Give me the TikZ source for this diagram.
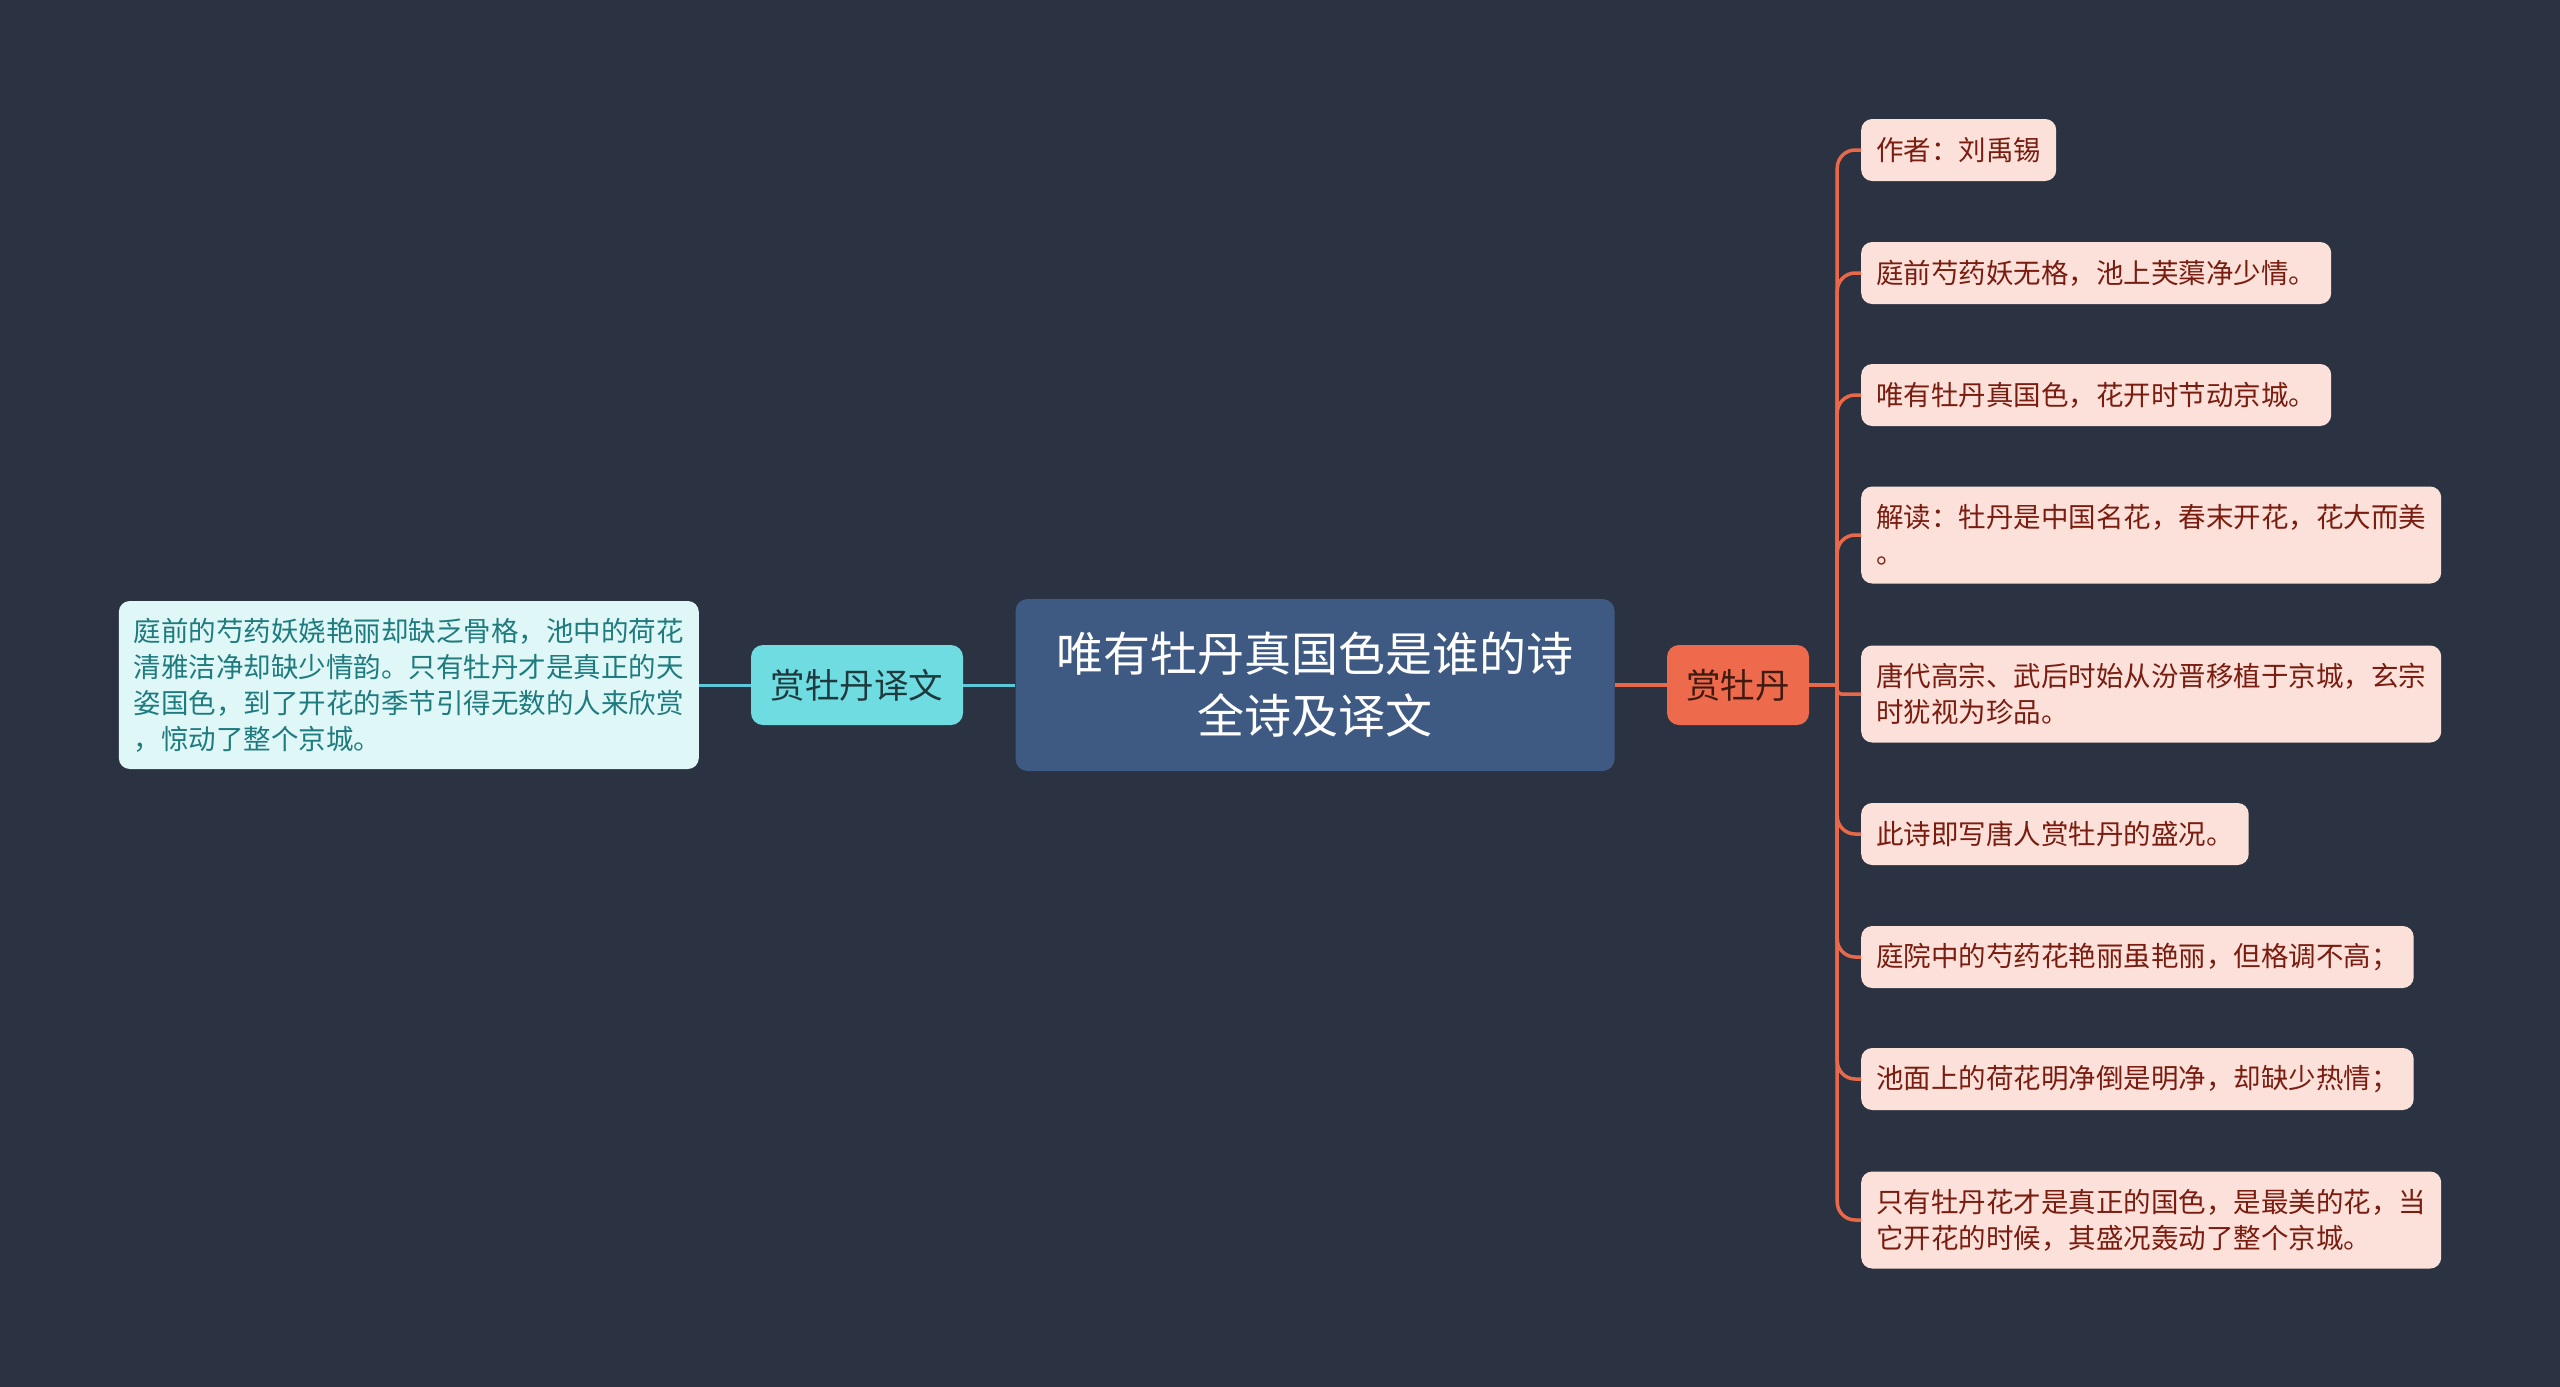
\documentclass[tikz,border=0pt]{standalone}
\usepackage{fontspec}
\newfontfamily\cjk{Noto Sans CJK SC}
\definecolor{bg}{HTML}{2B3342}
\definecolor{rootfill}{HTML}{3E5A82}
\definecolor{redfill}{HTML}{EE6A4C}
\definecolor{redtext}{HTML}{3E1A10}
\definecolor{cyanfill}{HTML}{6EDCE0}
\definecolor{cyantext}{HTML}{1F3A3E}
\definecolor{leaffill}{HTML}{FCE1DA}
\definecolor{leaftext}{HTML}{7A1D10}
\definecolor{lleaffill}{HTML}{E0F7F8}
\definecolor{lleaftext}{HTML}{1E7B7E}
\definecolor{redline}{HTML}{E8684A}
\definecolor{cyanline}{HTML}{5CC9DA}
\tikzset{
  rootbox/.style={rectangle, rounded corners=12pt, fill=rootfill, text=white,
    font=\cjk\fontsize{47}{62}\selectfont, align=center,
    minimum width=599pt, minimum height=172pt, inner sep=0pt},
  subbox/.style={rectangle, rounded corners=12pt, font=\cjk\fontsize{34.5}{42}\selectfont,
    minimum height=80pt, inner sep=0pt},
  leafbox/.style={rectangle, rounded corners=11pt, fill=leaffill, text=leaftext,
    font=\cjk\fontsize{27.5}{36}\selectfont, inner xsep=15pt, inner ysep=0pt,
    minimum height=62pt, anchor=west, align=left},
  lleafbox/.style={rectangle, rounded corners=11pt, fill=lleaffill, text=lleaftext,
    font=\cjk\fontsize{27.5}{36}\selectfont, inner xsep=15pt, inner ysep=0pt,
    minimum height=168pt, anchor=east, align=left},
  redlink/.style={draw=redline, line width=3.5pt},
  cyanlink/.style={draw=cyanline, line width=3pt},
}
\begin{document}
\begin{tikzpicture}[x=1pt,y=-1pt]
\fill[bg] (0,0) rectangle (2560,1387);
\useasboundingbox (0,0) rectangle (2560,1387);

\node[rootbox] (root) at (1315,685) {唯有牡丹真国色是谁的诗\\全诗及译文};
\node[subbox, fill=redfill, text=redtext, minimum width=142pt] (sm) at (1738,685) {赏牡丹};
\node[subbox, fill=cyanfill, text=cyantext, minimum width=212pt] (yw) at (857,685) {赏牡丹译文};

\node[lleafbox] (lt) at (699,685) {庭前的芍药妖娆艳丽却缺乏骨格，池中的荷花\\清雅洁净却缺少情韵。只有牡丹才是真正的天\\姿国色，到了开花的季节引得无数的人来欣赏\\，惊动了整个京城。};

\node[leafbox] (a1) at (1861,150) {作者：刘禹锡};
\node[leafbox] (a2) at (1861,273) {庭前芍药妖无格，池上芙蕖净少情。};
\node[leafbox] (a3) at (1861,395) {唯有牡丹真国色，花开时节动京城。};
\node[leafbox, minimum height=97pt] (a4) at (1861,535) {解读：牡丹是中国名花，春末开花，花大而美\\。};
\node[leafbox, minimum height=97pt] (a5) at (1861,694) {唐代高宗、武后时始从汾晋移植于京城，玄宗\\时犹视为珍品。};
\node[leafbox] (a6) at (1861,834) {此诗即写唐人赏牡丹的盛况。};
\node[leafbox] (a7) at (1861,957) {庭院中的芍药花艳丽虽艳丽，但格调不高；};
\node[leafbox] (a8) at (1861,1079) {池面上的荷花明净倒是明净，却缺少热情；};
\node[leafbox, minimum height=97pt] (a9) at (1861,1220) {只有牡丹花才是真正的国色，是最美的花，当\\它开花的时候，其盛况轰动了整个京城。};

\draw[cyanlink] (root.west) -- (yw.east);
\draw[cyanlink] (yw.west) -- (lt.east);
\draw[redlink] (root.east) -- (sm.west);
\draw[redlink] (sm.east) -- ++(28,0) coordinate (j);
\foreach \n in {a1,a2,a3,a4,a6,a7,a8,a9}{
  \draw[redlink, rounded corners=18pt] (j) |- (\n.west);
}
\draw[redlink, rounded corners=4pt] (j) |- (a5.west);
\end{tikzpicture}
\end{document}
